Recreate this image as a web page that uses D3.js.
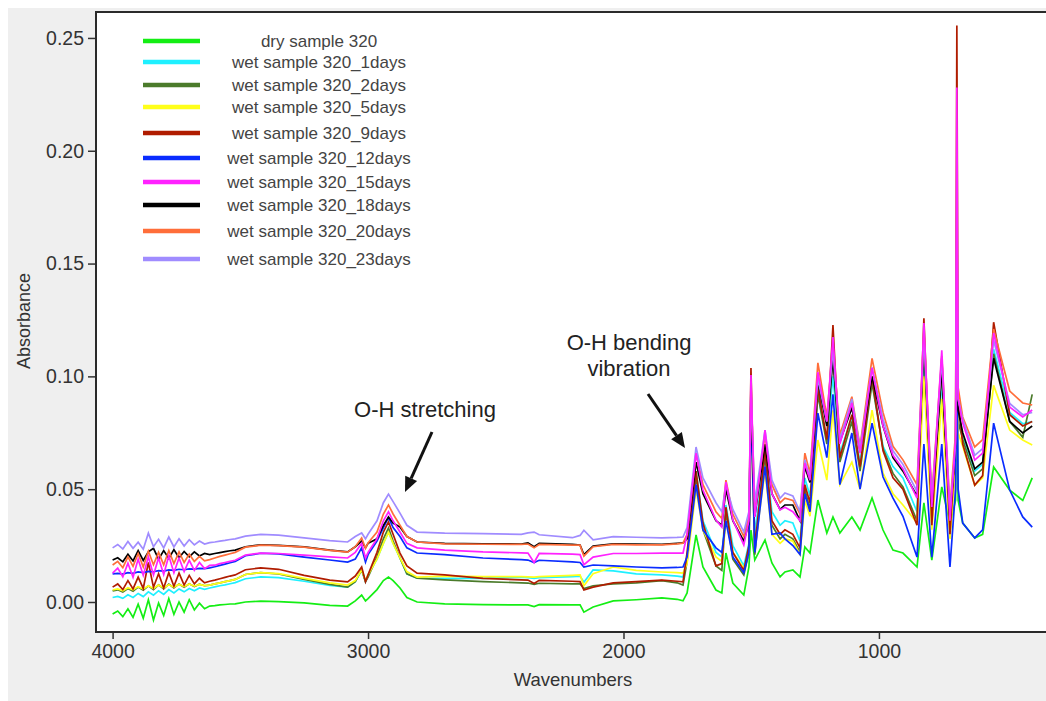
<!DOCTYPE html>
<html lang="en">
<head>
<meta charset="utf-8">
<title>FTIR spectra sample 320</title>
<style>
  body { margin: 0; background: #fff; overflow: hidden; }
  svg { display: block; }
  text { font-family: "Liberation Sans", Arial, Helvetica, sans-serif; }
</style>
<script src="https://cdn.jsdelivr.net/npm/d3@7/dist/d3.min.js"></script>
</head>
<body>
<div id="chart"></div>
<script>
// shared wavenumber grid (cm-1): noisy 4000-3520, hump, C-H/O-H stretch, flat part, fingerprint
var wavenumbers = [
  4000,3980,3960,3940,3920,3900,3880,3860,3840,3820,3800,3780,3760,3740,3720,3700,3680,3660,3640,3620,3600,3580,3560,3540,3520,
  3480,3420,3350,3250,3150,3080,
  3050,3025,3010,3000,2965,2940,2920,2902,2875,2848,2808,
  2700,2550,2400,2374,2350,2330,2200,2170,2155,2119,2040,1950,1850,1790,1767,
  1751,1716,1689,1638,1615,1599,1572,1529,1509,1501,1486,1446,1419,1387,1368,1337,1309,1290,1270,1239,
  1204,1180,1153,1106,1074,1027,984,945,906,851,824,793,754,722,700,695,690,672,625,594,551,488,437,400
];

var dry = [
  -0.0053,-0.0040,-0.0065,-0.0030,-0.0068,-0.0010,-0.0072,0.0010,-0.0080,-0.0005,-0.0060,0.0015,-0.0055,0.0000,-0.0045,0.0010,-0.0035,-0.0005,-0.0030,-0.0018,-0.0016,-0.0013,-0.0011,-0.0009,-0.0008,
  0.0000,0.0004,0.0002,-0.0004,-0.0015,-0.0018,
  0.0005,0.0031,0.0005,0.0015,0.0055,0.0095,0.0111,0.0095,0.0062,0.0020,0.0000,
  -0.0008,-0.0012,-0.0013,-0.0013,-0.0020,-0.0012,-0.0013,-0.0013,-0.0045,-0.0022,0.0005,0.0010,0.0018,0.0012,0.0005,
  0.004,0.0297,0.0155,0.0053,0.004,0.0217,0.0084,0.0031,0.0155,0.0319,0.0186,0.0275,0.0173,0.0111,0.0133,0.0142,0.0111,0.0244,0.0217,0.0452,
  0.0306,0.0377,0.0306,0.0377,0.0319,0.0461,0.0319,0.023,0.0217,0.0155,0.0439,0.0186,0.051,0.035,0.045,0.100,0.045,0.035,0.0284,0.030,0.0598,0.0496,0.045,0.055
];
var wet1 = [
  0.0020,0.0025,0.0016,0.0032,0.0020,0.0038,0.0024,0.0045,0.0030,0.0050,0.0034,0.0055,0.0040,0.0058,0.0045,0.0060,0.0050,0.0062,0.0056,0.0062,0.0067,0.0072,0.0076,0.0081,0.0086,
  0.0103,0.0111,0.0108,0.0092,0.0073,0.0066,
  0.0090,0.0142,0.0090,0.0120,0.0190,0.0260,0.0310,0.0260,0.0195,0.0125,0.0106,
  0.0105,0.0105,0.0110,0.0108,0.0105,0.0108,0.0112,0.0115,0.0088,0.0142,0.0138,0.0125,0.0120,0.0115,0.0111,
  0.020,0.058,0.036,0.022,0.020,0.043,0.025,0.016,0.026,0.088,0.030,0.066,0.040,0.034,0.036,0.035,0.027,0.055,0.047,0.092,
  0.072,0.100,0.066,0.082,0.062,0.098,0.069,0.060,0.055,0.040,0.110,0.038,0.098,0.033,0.065,0.120,0.080,0.074,0.058,0.061,0.112,0.084,0.079,0.080
];
var wet2 = [
  0.0049,0.0054,0.0044,0.0060,0.0048,0.0066,0.0052,0.0072,0.0055,0.0076,0.0058,0.0079,0.0062,0.0080,0.0065,0.0081,0.0068,0.0079,0.0072,0.0075,0.0080,0.0085,0.0090,0.0095,0.0100,
  0.0122,0.0130,0.0124,0.0100,0.0078,0.0066,
  0.0090,0.0142,0.0090,0.0110,0.0200,0.0280,0.0328,0.0270,0.0195,0.0125,0.0106,
  0.0098,0.0090,0.0085,0.0084,0.0078,0.0083,0.0080,0.0080,0.0060,0.0072,0.0080,0.0085,0.0095,0.0085,0.0075,
  0.018,0.056,0.032,0.016,0.014,0.040,0.019,0.012,0.022,0.095,0.021,0.065,0.034,0.028,0.030,0.028,0.022,0.050,0.041,0.092,
  0.070,0.110,0.062,0.080,0.058,0.097,0.068,0.057,0.051,0.036,0.115,0.035,0.102,0.031,0.065,0.110,0.080,0.072,0.056,0.059,0.110,0.080,0.073,0.092
];
var wet5 = [
  0.0053,0.0058,0.0050,0.0063,0.0054,0.0068,0.0057,0.0072,0.0060,0.0075,0.0062,0.0077,0.0065,0.0079,0.0068,0.0080,0.0070,0.0078,0.0073,0.0075,0.0080,0.0085,0.0090,0.0095,0.0100,
  0.0122,0.0130,0.0126,0.0105,0.0085,0.0075,
  0.0095,0.0142,0.0095,0.0120,0.0190,0.0260,0.0310,0.0260,0.0195,0.0135,0.0110,
  0.0115,0.0112,0.0112,0.0111,0.0110,0.0112,0.0118,0.0120,0.0072,0.0125,0.0155,0.0140,0.0133,0.0130,0.0128,
  0.017,0.050,0.032,0.020,0.018,0.036,0.022,0.015,0.022,0.080,0.024,0.058,0.030,0.026,0.028,0.027,0.021,0.045,0.038,0.0718,
  0.054,0.085,0.052,0.062,0.050,0.085,0.0571,0.048,0.043,0.035,0.100,0.032,0.090,0.028,0.060,0.130,0.075,0.069,0.0518,0.055,0.096,0.0762,0.0718,0.0696
];
var wet9 = [
  0.0066,0.0080,0.0055,0.0095,0.0058,0.0110,0.0060,0.0175,0.0065,0.0125,0.0062,0.0130,0.0070,0.0128,0.0075,0.0118,0.0080,0.0105,0.0085,0.0092,0.0097,0.0103,0.0109,0.0115,0.0120,
  0.0143,0.0151,0.0145,0.0118,0.0097,0.0089,
  0.0115,0.0155,0.0090,0.0120,0.0220,0.0310,0.0355,0.0300,0.0217,0.0160,0.0128,
  0.0120,0.0105,0.0098,0.0097,0.0082,0.0096,0.0092,0.0090,0.0053,0.0066,0.0085,0.0090,0.0097,0.0092,0.0089,
  0.022,0.058,0.035,0.016,0.017,0.042,0.022,0.014,0.025,0.1037,0.024,0.068,0.036,0.030,0.032,0.030,0.024,0.052,0.044,0.095,
  0.072,0.1227,0.064,0.083,0.060,0.100,0.067,0.055,0.050,0.034,0.1258,0.034,0.108,0.030,0.070,0.2555,0.090,0.070,0.0518,0.056,0.124,0.083,0.078,0.080
];
var wet12 = [
  0.0125,0.0127,0.0124,0.0130,0.0127,0.0133,0.0130,0.0136,0.0134,0.0139,0.0137,0.0142,0.0140,0.0145,0.0143,0.0147,0.0146,0.0149,0.0148,0.0151,0.0156,0.0162,0.0168,0.0174,0.0180,
  0.0205,0.0216,0.0213,0.0199,0.0186,0.0177,
  0.0190,0.0240,0.0177,0.0210,0.0270,0.0330,0.0375,0.0330,0.0290,0.0240,0.0217,
  0.0210,0.0195,0.0188,0.0186,0.0175,0.0185,0.0178,0.0175,0.0155,0.0164,0.0160,0.0155,0.0151,0.0153,0.0155,
  0.020,0.052,0.032,0.024,0.022,0.036,0.020,0.013,0.022,0.085,0.022,0.060,0.030,0.0306,0.028,0.025,0.021,0.048,0.040,0.0837,
  0.064,0.092,0.052,0.0749,0.050,0.0793,0.0554,0.046,0.038,0.0199,0.070,0.0199,0.070,0.0155,0.050,0.115,0.050,0.035,0.0284,0.032,0.0793,0.0496,0.0377,0.0332
];
var wet15 = [
  0.0128,0.0150,0.0112,0.0172,0.0110,0.0190,0.0118,0.0200,0.0120,0.0195,0.0122,0.0205,0.0130,0.0195,0.0135,0.0185,0.0140,0.0175,0.0148,0.0162,0.0163,0.0170,0.0175,0.0180,0.0185,
  0.0208,0.0217,0.0215,0.0208,0.0200,0.0195,
  0.0220,0.0260,0.0195,0.0220,0.0280,0.0360,0.0400,0.0360,0.0310,0.0260,0.0240,
  0.0230,0.0222,0.0218,0.0217,0.0175,0.0215,0.0212,0.0210,0.0165,0.0199,0.0215,0.0215,0.0217,0.0217,0.0217,
  0.030,0.066,0.0496,0.0363,0.0332,0.0532,0.0363,0.0253,0.036,0.1006,0.0377,0.0762,0.048,0.0408,0.042,0.040,0.036,0.0616,0.054,0.1019,
  0.080,0.1174,0.070,0.0882,0.066,0.1037,0.078,0.065,0.059,0.046,0.1236,0.0421,0.1116,0.036,0.072,0.228,0.090,0.0793,0.0629,0.066,0.1192,0.0864,0.082,0.0851
];
var wet18 = [
  0.0186,0.0196,0.0178,0.0212,0.0182,0.0228,0.0184,0.0222,0.0238,0.0190,0.0228,0.0193,0.0232,0.0196,0.0224,0.0200,0.0222,0.0204,0.0215,0.0210,0.0215,0.0219,0.0223,0.0227,0.0230,
  0.0245,0.0253,0.0251,0.0244,0.0230,0.0222,
  0.0245,0.0270,0.0240,0.0260,0.0280,0.0340,0.0377,0.0350,0.0332,0.0290,0.0266,
  0.0260,0.0258,0.0257,0.0262,0.0245,0.0260,0.0255,0.0252,0.0210,0.0248,0.0258,0.0257,0.0255,0.0260,0.0262,
  0.028,0.062,0.048,0.036,0.034,0.050,0.036,0.027,0.035,0.090,0.038,0.070,0.048,0.041,0.043,0.043,0.036,0.060,0.053,0.098,
  0.078,0.108,0.071,0.086,0.067,0.100,0.078,0.064,0.058,0.047,0.115,0.043,0.103,0.037,0.070,0.140,0.085,0.075,0.059,0.062,0.108,0.080,0.0749,0.078
];
var wet20 = [
  0.0164,0.0180,0.0152,0.0200,0.0158,0.0215,0.0155,0.0225,0.0165,0.0220,0.0165,0.0228,0.0170,0.0222,0.0175,0.0212,0.0180,0.0202,0.0182,0.0188,0.0195,0.0202,0.0208,0.0214,0.0220,
  0.0243,0.0252,0.0250,0.0243,0.0229,0.0221,
  0.0245,0.0284,0.0238,0.0262,0.0310,0.0390,0.0430,0.0390,0.0340,0.0290,0.0266,
  0.0258,0.0256,0.0255,0.0257,0.0240,0.0255,0.0252,0.0252,0.0203,0.0245,0.0255,0.0253,0.0253,0.0258,0.0261,
  0.030,0.066,0.052,0.040,0.037,0.054,0.039,0.029,0.038,0.097,0.041,0.074,0.052,0.044,0.046,0.045,0.039,0.066,0.057,0.106,
  0.082,0.114,0.074,0.091,0.069,0.108,0.084,0.069,0.063,0.052,0.120,0.047,0.109,0.042,0.075,0.171,0.095,0.082,0.0687,0.072,0.121,0.0935,0.0882,0.0873
];
var wet23 = [
  0.0240,0.0255,0.0235,0.0268,0.0238,0.0265,0.0234,0.0305,0.0245,0.0278,0.0240,0.0288,0.0244,0.0280,0.0248,0.0276,0.0253,0.0270,0.0257,0.0263,0.0266,0.0270,0.0273,0.0277,0.0280,
  0.0292,0.0300,0.0296,0.0284,0.0272,0.0266,
  0.0290,0.0306,0.0280,0.0300,0.0360,0.0440,0.0478,0.0445,0.0394,0.0340,0.0310,
  0.0305,0.0303,0.0300,0.0306,0.0310,0.0298,0.0285,0.0295,0.0318,0.0275,0.0290,0.0287,0.0284,0.0286,0.0288,
  0.033,0.0687,0.055,0.044,0.040,0.052,0.041,0.031,0.040,0.095,0.044,0.0762,0.054,0.046,0.0483,0.047,0.040,0.063,0.055,0.099,
  0.080,0.112,0.072,0.090,0.068,0.104,0.081,0.067,0.061,0.049,0.118,0.045,0.108,0.040,0.070,0.170,0.090,0.081,0.065,0.068,0.116,0.088,0.083,0.084
];

var names = ["dry sample 320", "wet sample 320_1days", "wet sample 320_2days", "wet sample 320_5days",
  "wet sample 320_9days", "wet sample 320_12days", "wet sample 320_15days", "wet sample 320_18days",
  "wet sample 320_20days", "wet sample 320_23days"];
var colors = ["#14ee14", "#1ff0ff", "#4b7b2b", "#ffff1a", "#b01c00", "#0a2cff", "#ff22ff", "#000000", "#ff6e3a", "#a08cff"];
var values = [dry, wet1, wet2, wet5, wet9, wet12, wet15, wet18, wet20, wet23];

var xTicks = [4000, 3000, 2000, 1000];
var yTicks = [0, 0.05, 0.10, 0.15, 0.20, 0.25];

var W = 1046, H = 701;
var plotL = 96, plotT = 12, plotR = 1046, plotB = 632;

var series = names.map(function(n, i) {
  return { name: n, color: colors[i], points: wavenumbers.map(function(w, j) { return [w, values[i][j]]; }) };
});

var svg = d3.select('#chart').append('svg')
  .attr('width', W)
  .attr('height', H);

// grey window background
svg.append('rect').attr('x', 8).attr('y', 8).attr('width', W - 8).attr('height', H - 8).attr('fill', '#efefef');
svg.append('rect').attr('x', plotL).attr('y', plotT).attr('width', plotR - plotL).attr('height', plotB - plotT).attr('fill', '#fff');

var x = d3.scaleLinear().domain([4065, 346]).range([plotL, plotR]);
var y = d3.scaleLinear().domain([-0.0133, 0.2615]).range([plotB, plotT]);

svg.append('clipPath').attr('id', 'plot-clip')
  .append('rect').attr('x', plotL).attr('y', plotT).attr('width', plotR - plotL).attr('height', plotB - plotT);

var line = d3.line()
  .x(function(d) { return x(d[0]); })
  .y(function(d) { return y(d[1]); });

// draw order: legend order, 15 days on top
var order = [0, 1, 2, 3, 4, 5, 7, 8, 9, 6];
svg.append('g').attr('clip-path', 'url(#plot-clip)')
  .selectAll('path')
  .data(order.map(function(i) { return series[i]; }))
  .enter().append('path')
  .attr('d', function(d) { return line(d.points); })
  .attr('fill', 'none')
  .attr('stroke', function(d) { return d.color; })
  .attr('stroke-width', 1.7)
  .attr('stroke-linejoin', 'miter');

// axes
var xAxis = svg.append('g')
  .attr('transform', 'translate(0,' + plotB + ')')
  .call(d3.axisBottom(x).tickValues(xTicks).tickFormat(d3.format('d')).tickSize(7).tickPadding(5));
var yAxis = svg.append('g')
  .attr('transform', 'translate(' + plotL + ',0)')
  .call(d3.axisLeft(y).tickValues(yTicks).tickFormat(d3.format('.2f')).tickSize(8).tickPadding(4));

[xAxis, yAxis].forEach(function(g) {
  g.select('.domain').remove();
  g.selectAll('.tick line').attr('stroke', '#333').attr('stroke-width', 1.5);
  g.selectAll('.tick text').attr('fill', '#333').style('font-size', '19.5px');
});

// frame
svg.append('path')
  .attr('d', 'M' + plotR + ',' + plotT + 'H' + plotL + 'V' + plotB + 'H' + plotR)
  .attr('fill', 'none')
  .attr('stroke', '#2a2a2a')
  .attr('stroke-width', 2);

svg.append('text')
  .attr('x', 573).attr('y', 686)
  .attr('text-anchor', 'middle')
  .attr('fill', '#333')
  .style('font-size', '18.5px')
  .text('Wavenumbers');

svg.append('text')
  .attr('transform', 'translate(30,321) rotate(-90)')
  .attr('text-anchor', 'middle')
  .attr('fill', '#333')
  .style('font-size', '18px')
  .text('Absorbance');

// legend
var legendY = [41, 62, 85, 107, 133, 158, 182, 205, 231, 259];
var legend = svg.append('g').selectAll('g')
  .data(series)
  .enter().append('g')
  .attr('transform', function(d, i) { return 'translate(0,' + legendY[i] + ')'; });
legend.append('line')
  .attr('x1', 143).attr('x2', 200)
  .attr('stroke', function(d) { return d.color; })
  .attr('stroke-width', 4.5);
legend.append('text')
  .attr('x', 319).attr('y', 6)
  .attr('text-anchor', 'middle')
  .attr('fill', '#444')
  .style('font-size', '17px')
  .text(function(d) { return d.name; });

// annotations
function arrow(x1, y1, x2, y2) {
  var a = Math.atan2(y2 - y1, x2 - x1), len = 15, half = 6.5;
  var bx = x2 - len * Math.cos(a), by = y2 - len * Math.sin(a);
  svg.append('line')
    .attr('x1', x1).attr('y1', y1).attr('x2', bx).attr('y2', by)
    .attr('stroke', '#111').attr('stroke-width', 3);
  svg.append('path')
    .attr('d', 'M' + x2 + ',' + y2 +
      'L' + (bx + half * Math.sin(a)) + ',' + (by - half * Math.cos(a)) +
      'L' + (bx - half * Math.sin(a)) + ',' + (by + half * Math.cos(a)) + 'Z')
    .attr('fill', '#111');
}

svg.append('text')
  .attr('x', 425).attr('y', 417)
  .attr('text-anchor', 'middle')
  .attr('fill', '#222')
  .style('font-size', '22px')
  .text('O-H stretching');
arrow(432, 432, 405, 492);

svg.append('text')
  .attr('x', 629).attr('y', 350)
  .attr('text-anchor', 'middle')
  .attr('fill', '#222')
  .style('font-size', '22px')
  .text('O-H bending');
svg.append('text')
  .attr('x', 629).attr('y', 376)
  .attr('text-anchor', 'middle')
  .attr('fill', '#222')
  .style('font-size', '22px')
  .text('vibration');
arrow(648, 394, 685, 448);
</script>
</body>
</html>
